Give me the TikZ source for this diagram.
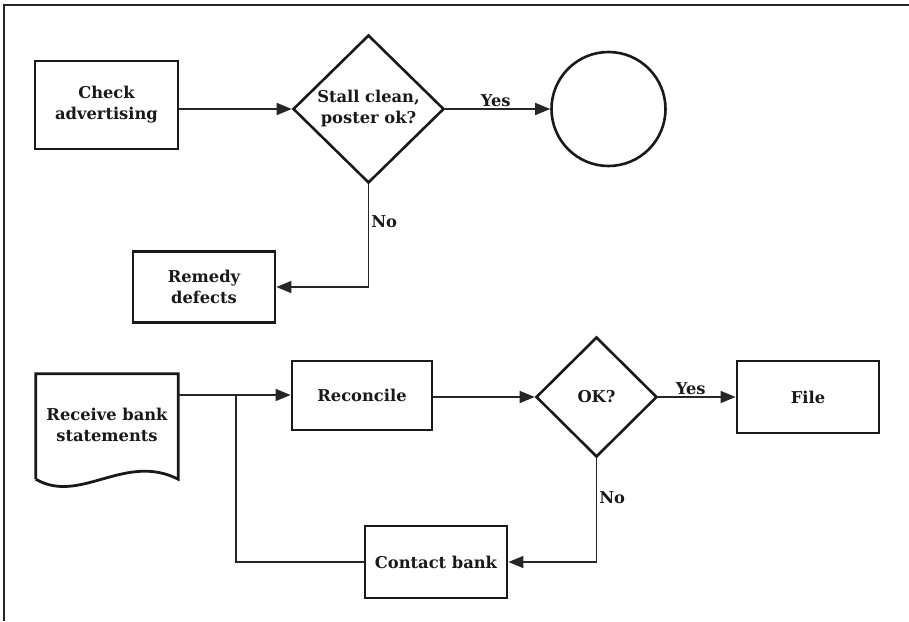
\documentclass[tikz,border=0pt]{standalone}
\usepackage{fontspec}
\setmainfont{DejaVu Serif}
\usetikzlibrary{arrows.meta,shapes.geometric}
\begin{document}
\begin{tikzpicture}[x=1pt,y=-1pt,
  every node/.style={font=\fontsize{16.3}{21}\selectfont\bfseries, text=black!90},
  box/.style={draw=black!90, line width=2.8pt, rectangle, inner sep=0pt, align=center},
  decision/.style={draw=black!90, line width=2.6pt, diamond, inner sep=0pt, align=center},
  term/.style={draw=black!90, line width=2.6pt, circle, inner sep=0pt},
  flow/.style={draw=black!85, line width=1.5pt, -{Triangle[length=15pt,width=12pt]}},
  link/.style={draw=black!85, line width=1.5pt},
  lbl/.style={inner sep=2pt}
]
\useasboundingbox (0,0) rectangle (909,621);
% outer frame (top and left edges)
\draw[line width=1.6pt, black!85] (909,5) -- (4,5) -- (4,621);

% upper flow
\node[box, minimum width=143pt, minimum height=88pt] (chk) at (106.5,105) {Check\\advertising};
\node[decision, minimum width=151pt, minimum height=148pt] (d1) at (368.5,109) {Stall clean,\\poster ok?};
\node[term, minimum size=114pt] (end) at (608.5,109) {};
\node[box, minimum width=142pt, minimum height=71pt] (rem) at (204,287) {Remedy\\defects};

\draw[flow] (chk.east |- d1.west) -- (d1.west);
\draw[flow] (d1.east) -- node[lbl, above, pos=0.48] {Yes} (end.west);
\draw[flow] (d1.south) |- node[lbl, right, pos=0.18] {No} (rem.east);

% lower flow
\node[rectangle, inner sep=0pt, minimum width=142pt, minimum height=105pt, align=center] (recv) at (107,426.5) {\raisebox{3pt}{\begin{tabular}{@{}c@{}}Receive bank\\statements\end{tabular}}};
\draw[draw=black!90, line width=2.8pt, line join=miter]
  (recv.south west) -- (recv.north west) -- (recv.north east) -- (recv.south east)
  .. controls (125,452) and (80,505) .. (recv.south west);

\node[box, minimum width=140pt, minimum height=69pt] (rec) at (362,395.5) {Reconcile};
\node[decision, minimum width=121pt, minimum height=120pt] (ok) at (596.5,397) {OK?};
\node[box, minimum width=142pt, minimum height=72pt] (file) at (808,397) {File};
\node[box, minimum width=142pt, minimum height=72pt] (cb) at (436,562) {Contact bank};
\coordinate (j) at (236,395);

\draw[flow] (recv.north east |- j) -- (rec.west |- j);
\draw[flow] (rec.east |- ok.west) -- (ok.west);
\draw[flow] (ok.east) -- node[lbl, above, pos=0.42] {Yes} (file.west);
\draw[flow] (ok.south) |- node[lbl, right, pos=0.19] {No} (cb.east);
\draw[link] (cb.west) -| (j);
\end{tikzpicture}
\end{document}
